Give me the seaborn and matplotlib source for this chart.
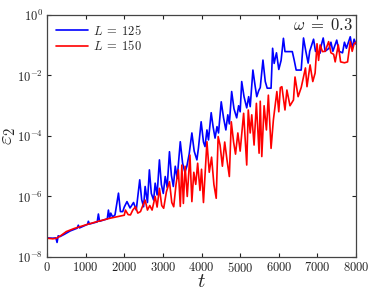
import numpy as np
import pandas as pd
import matplotlib
matplotlib.use("Agg")
import matplotlib.pyplot as plt
import seaborn as sns
from matplotlib.ticker import NullLocator, FixedLocator

# ---- data (eps given as log10 values) ----
t_L125 = [0, 150, 230, 260, 290, 330, 450, 600, 780, 810, 840, 1000, 1050, 1070, 1100,
          1300, 1330, 1360, 1560, 1590, 1620, 1650, 1700, 1760, 1850, 1900, 1960, 2000,
          2070, 2150, 2240, 2310, 2400, 2450, 2500, 2540, 2600, 2650, 2700, 2760, 2800,
          2850, 2910, 2960, 3010, 3060, 3110, 3170, 3220, 3270, 3320, 3370, 3450, 3510,
          3570, 3620, 3680, 3750, 3810, 3880, 3920, 3990, 4050, 4090, 4140, 4180, 4250,
          4300, 4350, 4400, 4440, 4510, 4570, 4630, 4680, 4720, 4780, 4840, 4910, 4960,
          5000, 5040, 5100, 5170, 5220, 5260, 5330, 5390, 5430, 5480, 5520, 5590, 5650,
          5700, 5800, 5840, 5880, 5940, 6000, 6060, 6120, 6160, 6350, 6400, 6450, 6580,
          6640, 6700, 6760, 6800, 6900, 6950, 7070, 7100, 7150, 7200, 7300, 7350, 7400,
          7500, 7560, 7650, 7700, 7750, 7850, 7900, 7950, 8000]
log_eps_L125 = [-7.37, -7.38, -7.37, -7.52, -7.30, -7.33, -7.25, -7.14, -7.05, -6.95, -7.04,
                -6.95, -6.92, -6.82, -6.91, -6.84, -6.58, -6.82, -6.74, -6.45, -6.72, -6.55,
                -6.68, -6.61, -5.89, -6.50, -6.50, -6.35, -6.17, -6.38, -6.20, -6.45, -5.45,
                -6.10, -6.34, -5.67, -6.20, -5.12, -5.90, -6.12, -5.56, -5.95, -4.79, -5.60,
                -5.90, -5.34, -5.70, -4.52, -5.30, -5.67, -5.00, -5.40, -4.19, -4.90, -5.20,
                -5.00, -4.60, -3.90, -4.50, -4.79, -4.40, -3.53, -4.20, -4.35, -3.80, -4.13,
                -3.23, -3.70, -4.07, -3.69, -3.90, -2.87, -3.40, -3.80, -3.30, -3.60, -2.53,
                -3.10, -3.40, -3.00, -3.20, -2.20, -2.70, -3.07, -2.70, -3.03, -1.82, -2.37,
                -2.70, -2.50, -2.40, -1.49, -2.20, -2.42, -2.42, -1.10, -1.60, -1.25, -1.80,
                -1.50, -0.77, -1.21, -1.21, -1.50, -1.82, -1.82, -0.76, -1.20, -1.59, -1.20,
                -0.80, -1.20, -1.26, -1.00, -0.76, -1.20, -1.10, -0.90, -1.20, -0.83, -1.20,
                -1.25, -0.90, -1.10, -0.72, -1.10, -0.80, -0.97]

t_L150 = [0, 150, 250, 350, 500, 700, 1000, 1300, 1630, 1850, 2000, 2030, 2100, 2160, 2220,
          2290, 2350, 2420, 2480, 2540, 2600, 2660, 2720, 2800, 2850, 2910, 2970, 3020,
          3090, 3170, 3230, 3280, 3340, 3400, 3450, 3490, 3530, 3575, 3630, 3700, 3750,
          3800, 3850, 3900, 3960, 4000, 4050, 4140, 4200, 4260, 4320, 4380, 4430, 4480,
          4540, 4600, 4660, 4720, 4770, 4830, 4880, 4940, 5000, 5090, 5170, 5210, 5260,
          5300, 5360, 5420, 5490, 5520, 5560, 5620, 5680, 5730, 5800, 5860, 5950, 6000,
          6040, 6080, 6160, 6210, 6290, 6380, 6420, 6500, 6580, 6690, 6730, 6810, 6880,
          6940, 6990, 7030, 7070, 7130, 7200, 7290, 7350, 7420, 7460, 7540, 7600, 7700,
          7780, 7850, 7900, 7950, 8000]
log_eps_L150 = [-7.38, -7.40, -7.38, -7.30, -7.16, -7.06, -6.94, -6.83, -6.72, -6.66, -6.62,
                -6.45, -6.60, -6.61, -6.45, -6.34, -6.55, -6.50, -6.30, -6.12, -6.45, -6.30,
                -6.45, -6.00, -6.35, -5.73, -6.30, -6.39, -5.85, -5.51, -6.20, -6.34, -5.60,
                -5.12, -6.33, -4.96, -6.23, -5.00, -6.00, -4.63, -6.17, -5.20, -5.60, -4.90,
                -5.80, -5.10, -6.20, -4.19, -5.20, -4.70, -5.60, -6.06, -4.02, -4.30, -5.00,
                -4.20, -4.80, -5.34, -3.53, -4.20, -4.60, -3.90, -4.50, -3.25, -4.96, -3.14,
                -3.90, -3.30, -4.30, -2.92, -4.57, -2.85, -4.68, -3.00, -3.80, -2.65, -4.41,
                -3.47, -2.53, -3.20, -2.40, -2.37, -3.14, -2.48, -3.00, -2.81, -2.05, -2.70,
                -2.40, -1.75, -2.37, -1.65, -2.20, -1.92, -0.95, -1.50, -0.99, -1.21, -1.20,
                -0.88, -1.25, -1.30, -1.55, -0.99, -1.55, -1.58, -1.55, -0.88, -1.20, -0.95,
                -0.90]

series_labels = [r"$L\;=\;125$", r"$L\;=\;150$"]
series_colors = ["#0000ff", "#ff0000"]

xticks = [0, 1000, 2000, 3000, 4000, 5000, 6000, 7000, 8000]
yticks = [1e-8, 1e-6, 1e-4, 1e-2, 1e0]
ytick_labels = ["$10^{-8}$", "$10^{-6}$", "$10^{-4}$", "$10^{-2}$", "$10^{0}$"]

df = pd.concat([
    pd.DataFrame({"t": t_L125, "eps": 10.0 ** np.array(log_eps_L125), "L": series_labels[0]}),
    pd.DataFrame({"t": t_L150, "eps": 10.0 ** np.array(log_eps_L150), "L": series_labels[1]}),
], ignore_index=True)

sns.set_style("ticks")
plt.rcParams["mathtext.fontset"] = "cm"
plt.rcParams["font.family"] = ["DejaVu Serif"]

fig = plt.figure(figsize=(3.74, 2.92), dpi=100)
ax = fig.add_axes([0.1257, 0.120, 0.8263, 0.8286])

sns.lineplot(data=df, x="t", y="eps", hue="L", hue_order=series_labels,
             palette=dict(zip(series_labels, series_colors)), linewidth=1.2,
             sort=False, estimator=None, ax=ax)

ax.set_yscale("log")
ax.set_xlim(0, 8000)
ax.set_ylim(1e-8, 1e0)
ax.yaxis.set_major_locator(FixedLocator(yticks))
ax.yaxis.set_minor_locator(NullLocator())
ax.set_yticklabels(ytick_labels)
ax.set_xticks(xticks)
ax.set_xticklabels([f"${v}$" for v in xticks])
ax.tick_params(direction="in", length=3, width=0.8, top=True, right=True,
               labelsize=9, colors="#222222", pad=3)
for s in ax.spines.values():
    s.set_color("#444444")
    s.set_linewidth(0.9)

ax.set_xlabel("$t$", fontsize=15, labelpad=-2)
ax.set_ylabel(r"$\varepsilon_2$", fontsize=15)
ax.yaxis.set_label_coords(-0.095, 0.5)

leg = ax.legend(loc="upper left", frameon=False, fontsize=9, handlelength=2.6,
                handletextpad=0.4, borderaxespad=0.3, labelspacing=0.1)
leg.set_title(None)

ax.text(0.99, 0.955, r"$\omega\;=\;0.3$", transform=ax.transAxes, ha="right", va="center",
        fontsize=12)

fig.savefig("out.png", dpi=100)
